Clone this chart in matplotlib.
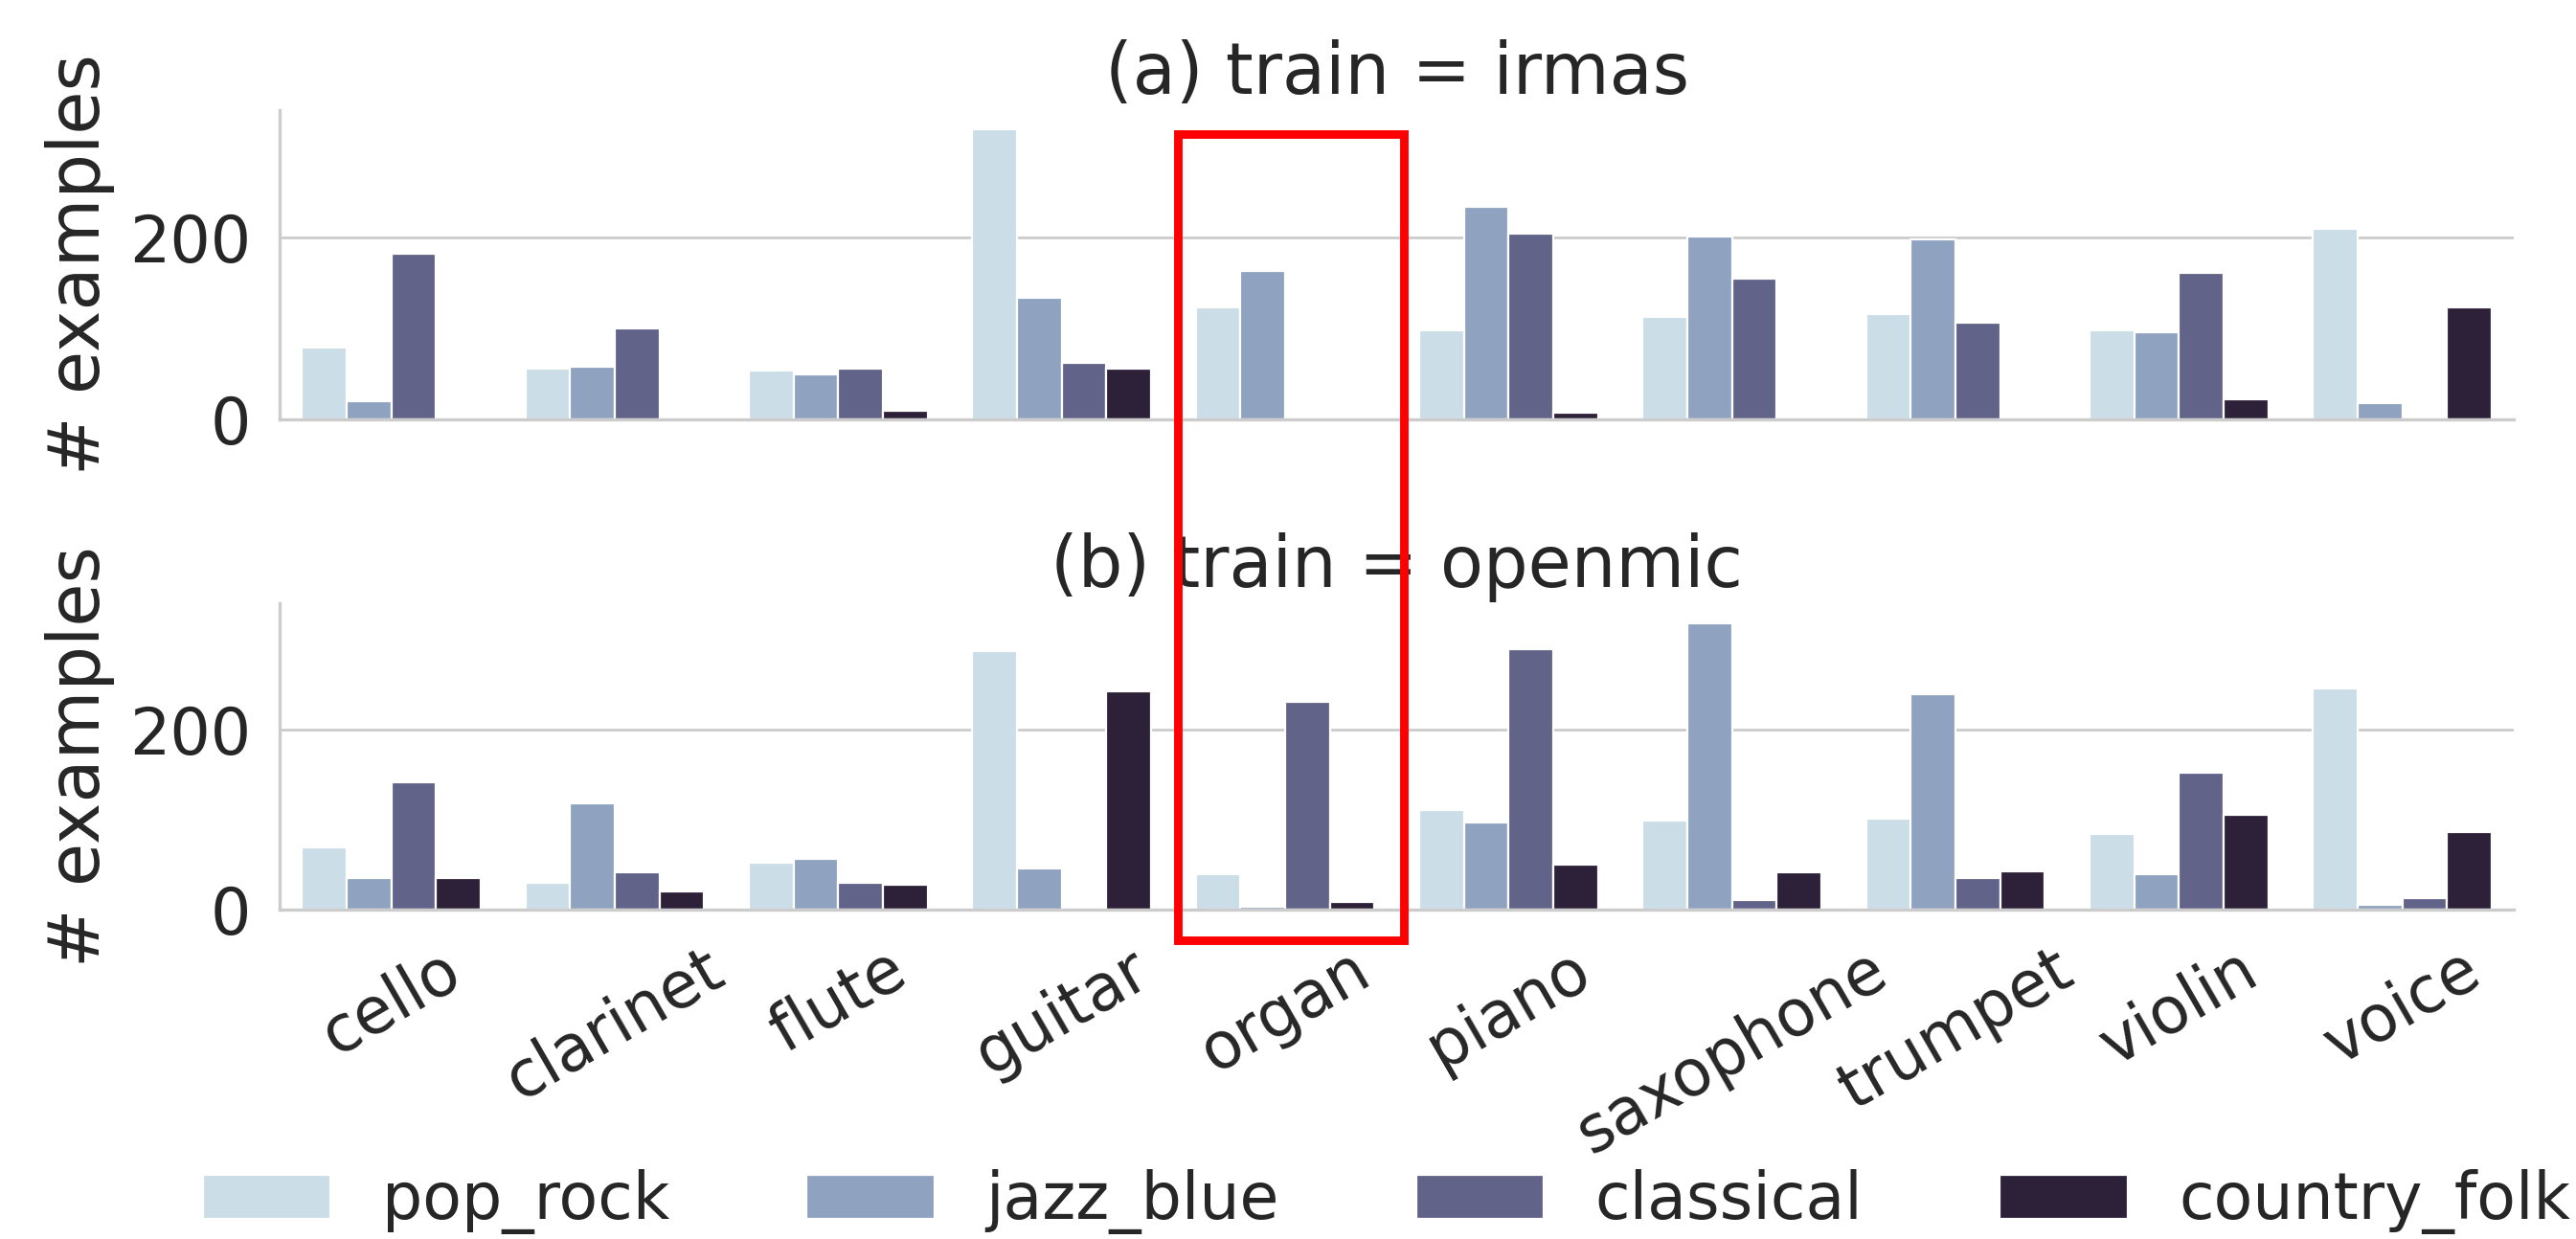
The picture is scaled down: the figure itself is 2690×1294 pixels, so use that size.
import numpy as np
import matplotlib
matplotlib.use("Agg")
from matplotlib import pyplot as plt
from matplotlib.patches import Rectangle

instruments = ['cello', 'clarinet', 'flute', 'guitar', 'organ',
               'piano', 'saxophone', 'trumpet', 'violin', 'voice']
genres = ['pop_rock', 'jazz_blue', 'classical', 'country_folk']
colors = ['#cbdde6', '#8fa3c0', '#626389', '#2d2139']

# train = irmas
irmas_pop_rock = [79, 56, 54, 319, 123, 98, 113, 116, 98, 209]
irmas_jazz_blue = [20, 58, 50, 134, 163, 234, 201, 198, 96, 18]
irmas_classical = [182, 100, 56, 62, 0, 204, 155, 106, 161, 0]
irmas_country_folk = [0, 0, 10, 56, 0, 7, 1, 0, 22, 123]

# train = openmic
openmic_pop_rock = [69, 30, 52, 287, 39, 111, 99, 101, 84, 246]
openmic_jazz_blue = [35, 118, 56, 46, 3, 97, 318, 239, 39, 5]
openmic_classical = [141, 41, 30, 0, 231, 289, 11, 35, 152, 13]
openmic_country_folk = [35, 20, 28, 242, 9, 50, 41, 43, 105, 86]

panels = [
    ('(a) train = irmas', [irmas_pop_rock, irmas_jazz_blue, irmas_classical, irmas_country_folk]),
    ('(b) train = openmic', [openmic_pop_rock, openmic_jazz_blue, openmic_classical, openmic_country_folk]),
]

text_col = '#262626'
light = '#cccccc'
plt.rcParams['font.family'] = ['DejaVu Sans']
plt.rcParams['text.color'] = text_col

fig = plt.figure(figsize=(13.45, 6.47), dpi=200)
ax_top = fig.add_axes([0.1086, 0.6615, 0.8674, 0.2496])
ax_bot = fig.add_axes([0.1086, 0.2658, 0.8674, 0.2473])

x = np.arange(len(instruments))
w = 0.2
for ax, (title, series) in zip([ax_top, ax_bot], panels):
    for i, vals in enumerate(series):
        ax.bar(x - 0.3 + i * w, vals, width=w, color=colors[i],
               edgecolor='white', linewidth=0.8, label=genres[i], zorder=2)
    ax.set_xlim(-0.5, len(instruments) - 0.5)
    ax.set_ylim(0, 340)
    ax.set_yticks([0, 200])
    ax.yaxis.grid(True, color=light, linewidth=1.0, zorder=0)
    ax.xaxis.grid(False)
    ax.set_axisbelow(True)
    for s in ['top', 'right']:
        ax.spines[s].set_visible(False)
    for s in ['left', 'bottom']:
        ax.spines[s].set_color(light)
        ax.spines[s].set_linewidth(1.2)
    ax.tick_params(length=0, pad=10.8, labelsize=24, colors=text_col)
    ax.set_ylabel('# examples', fontsize=26.5, labelpad=5.5, color=text_col)
    ax.set_title(title, fontsize=26.5, color=text_col)

ax_top.set_xticks(x)
ax_top.set_xticklabels([])
ax_bot.set_xticks(x)
ax_bot.set_xticklabels(instruments, rotation=30)

handles, labels = ax_bot.get_legend_handles_labels()
fig.legend(handles, labels, loc='center', bbox_to_anchor=(0.5383, 0.03),
           ncol=4, frameon=False, fontsize=24, columnspacing=2.15)

# highlight box around the organ column
fig.patches.append(Rectangle((1230 / 2690, 1 - 982 / 1294), (1466 - 1230) / 2690,
                             (982 - 140) / 1294, transform=fig.transFigure,
                             fill=False, edgecolor='red', linewidth=3.2, zorder=10))

fig.savefig('out.png', dpi=200)
